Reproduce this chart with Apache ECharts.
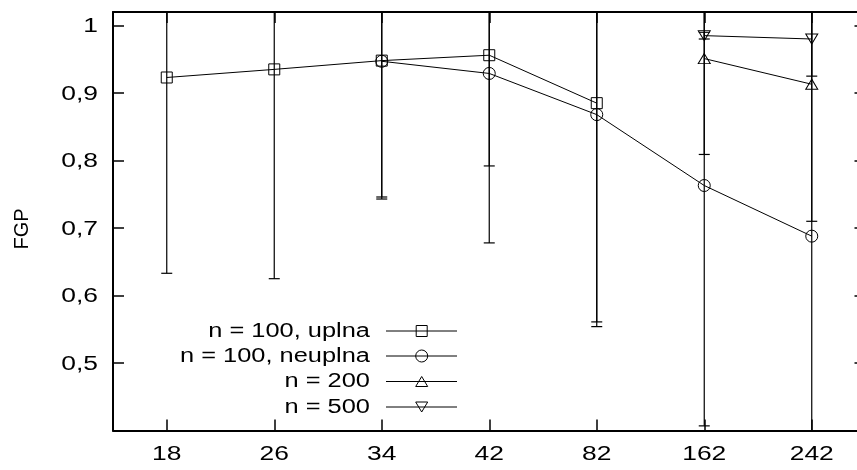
<!DOCTYPE html>
<html>
<head>
<meta charset="utf-8">
<script src="https://cdn.jsdelivr.net/npm/echarts@6/dist/echarts.min.js"></script>
<style>
html,body{margin:0;padding:0;background:#fff;}
#chart{width:857px;height:470px;}
</style>
</head>
<body>
<div id="chart"></div>
<script>
// ---- data ----
var categories = ['18', '26', '34', '42', '82', '162', '242'];
var yTickValues = [0.5, 0.6, 0.7, 0.8, 0.9, 1.0];
var yTickLabels = ['0,5', '0,6', '0,7', '0,8', '0,9', '1'];
var seriesNames = ['n = 100, uplna', 'n = 100, neuplna', 'n = 200', 'n = 500'];
var uplna      = [0.923, 0.935, 0.948, 0.956, 0.885, null, null];
var uplnaErr   = [0.290, 0.310, 0.202, 0.164, 0.324, null, null];
var neuplna    = [null, null, 0.947, 0.929, 0.868, 0.763, 0.688];
var neuplnaErr = [null, null, 0.204, 0.251, 0.314, 0.356, 0.350];
var n200       = [null, null, null, null, null, 0.951, 0.913];
var n200Err    = [null, null, null, null, null, 0.142, 0.203];
var n500       = [null, null, null, null, null, 0.985, 0.980];
var n500Err    = [null, null, null, null, null, 0.005, 0.055];
var yLabel = 'FGP';

// ---- build ----
var FONT = '20px "Liberation Sans", Arial, Helvetica, sans-serif';
var SX = 1.32;
var SX_KEY = 1.27;
var means = [uplna, neuplna, n200, n500];
var errs = [uplnaErr, neuplnaErr, n200Err, n500Err];
var symbols = ['rect', 'circle', 'triangle', 'triangle'];
var symSizes = [[11, 11], [12, 12], [12, 10], [12, 10]];
var symRot = [0, 0, 0, 180];

function errData(m, e) {
  var out = [];
  for (var i = 0; i < m.length; i++) {
    if (m[i] != null && e[i] != null) out.push([i, m[i] - e[i], m[i] + e[i]]);
  }
  return out;
}

function renderErr(params, api) {
  var cs = params.coordSys;
  var idx = api.value(0);
  var pLo = api.coord([idx, api.value(1)]);
  var pHi = api.coord([idx, api.value(2)]);
  var x = pLo[0];
  var top = cs.y, bot = cs.y + cs.height;
  var yLo = pLo[1], yHi = pHi[1];
  var children = [];
  var y1 = Math.min(yLo, bot), y2 = Math.max(yHi, top);
  var st = { stroke: '#000', lineWidth: 1.2 };
  children.push({ type: 'line', shape: { x1: x, y1: y1, x2: x, y2: y2 }, style: st });
  var hw = 5.5;
  if (yLo <= bot) children.push({ type: 'line', shape: { x1: x - hw, y1: yLo, x2: x + hw, y2: yLo }, style: st });
  if (yHi >= top) children.push({ type: 'line', shape: { x1: x - hw, y1: yHi, x2: x + hw, y2: yHi }, style: st });
  return { type: 'group', children: children };
}

var series = [];
for (var s = 0; s < 4; s++) {
  series.push({
    type: 'custom',
    name: seriesNames[s] + ' err',
    renderItem: renderErr,
    data: errData(means[s], errs[s]),
    silent: true,
    z: 1
  });
}
for (var s2 = 0; s2 < 4; s2++) {
  series.push({
    type: 'line',
    name: seriesNames[s2],
    data: means[s2],
    symbol: symbols[s2],
    symbolSize: symSizes[s2],
    symbolRotate: symRot[s2],
    showSymbol: true,
    lineStyle: { color: '#000', width: 1 },
    itemStyle: { color: 'rgba(0,0,0,0)', borderColor: '#000', borderWidth: 1 },
    emphasis: { disabled: true },
    animation: false,
    z: 3
  });
}

var axisLineStyle = { color: '#000', width: 2 };
var tickStyle = { color: '#000', width: 1.5 };

var chart = echarts.init(document.getElementById('chart'), null, { renderer: 'canvas' });
var option = {
  animation: false,
  backgroundColor: '#fff',
  grid: { left: 113, top: 12, width: 752.5, height: 418.6, containLabel: false, outerBoundsMode: 'none' },
  xAxis: [
    { type: 'category', data: categories, boundaryGap: true, position: 'bottom',
      axisLine: { show: true, onZero: false, lineStyle: axisLineStyle },
      axisTick: { show: true, inside: true, alignWithLabel: true, length: 11, lineStyle: tickStyle },
      axisLabel: { show: false }, splitLine: { show: false } },
    { type: 'category', data: categories, boundaryGap: true, position: 'top',
      axisLine: { show: true, onZero: false, lineStyle: axisLineStyle },
      axisTick: { show: true, inside: true, alignWithLabel: true, length: 11, lineStyle: tickStyle },
      axisLabel: { show: false }, splitLine: { show: false } }
  ],
  yAxis: [
    { type: 'value', min: 0.4, max: 1.02, interval: 0.1, position: 'left',
      axisLine: { show: true, onZero: false, lineStyle: axisLineStyle },
      axisTick: { show: true, inside: true, length: 11, lineStyle: tickStyle },
      axisLabel: { show: false }, splitLine: { show: false } },
    { type: 'value', min: 0.4, max: 1.02, interval: 0.1, position: 'right',
      axisLine: { show: true, onZero: false, lineStyle: axisLineStyle },
      axisTick: { show: true, inside: true, length: 11, lineStyle: tickStyle },
      axisLabel: { show: false }, splitLine: { show: false } }
  ],
  series: series
};
chart.setOption(option);

// ---- labels & key as text, positioned through the axes ----
function txt(x, y, text, align, sx, rot) {
  var el = { type: 'text', x: x, y: y, silent: true,
    style: { text: text, font: FONT, fill: '#000',
      align: align, verticalAlign: 'middle', textAlign: align, textVerticalAlign: 'middle' } };
  if (sx) el.scaleX = sx;
  if (rot) el.rotation = rot;
  return el;
}
var graphics = [];
for (var i = 0; i < yTickValues.length; i++) {
  var py = chart.convertToPixel({ yAxisIndex: 0 }, yTickValues[i]);
  graphics.push(txt(98, py + 1, yTickLabels[i], 'right', SX));
}
for (var j = 0; j < categories.length; j++) {
  var px = chart.convertToPixel({ xAxisIndex: 0 }, categories[j]);
  graphics.push(txt(px, 454, categories[j], 'center', SX));
}
graphics.push(txt(22, 229, yLabel, 'center', 0, Math.PI / 2));

// key
var keyRowY = [331, 356, 381.5, 407];
var keyTextX = 370, keyLineX1 = 386, keyLineX2 = 457, keySymX = 421.7;
for (var k = 0; k < 4; k++) {
  var ky = keyRowY[k];
  graphics.push(txt(keyTextX, ky, seriesNames[k], 'right', SX_KEY));
  graphics.push({ type: 'line', silent: true, shape: { x1: keyLineX1, y1: ky, x2: keyLineX2, y2: ky },
    style: { stroke: '#000', lineWidth: 1 } });
  var sym;
  var sw = symSizes[k][0], sh = symSizes[k][1];
  if (symbols[k] === 'rect') {
    sym = { type: 'rect', shape: { x: keySymX - sw / 2, y: ky - sh / 2, width: sw, height: sh } };
  } else if (symbols[k] === 'circle') {
    sym = { type: 'circle', shape: { cx: keySymX, cy: ky, r: sw / 2 } };
  } else if (symRot[k] === 0) {
    sym = { type: 'polygon', shape: { points: [[keySymX, ky - sh / 2], [keySymX + sw / 2, ky + sh / 2], [keySymX - sw / 2, ky + sh / 2]] } };
  } else {
    sym = { type: 'polygon', shape: { points: [[keySymX, ky + sh / 2], [keySymX + sw / 2, ky - sh / 2], [keySymX - sw / 2, ky - sh / 2]] } };
  }
  sym.silent = true;
  sym.style = { fill: 'none', stroke: '#000', lineWidth: 1 };
  graphics.push(sym);
}
chart.setOption({ graphic: graphics });
</script>
</body>
</html>
